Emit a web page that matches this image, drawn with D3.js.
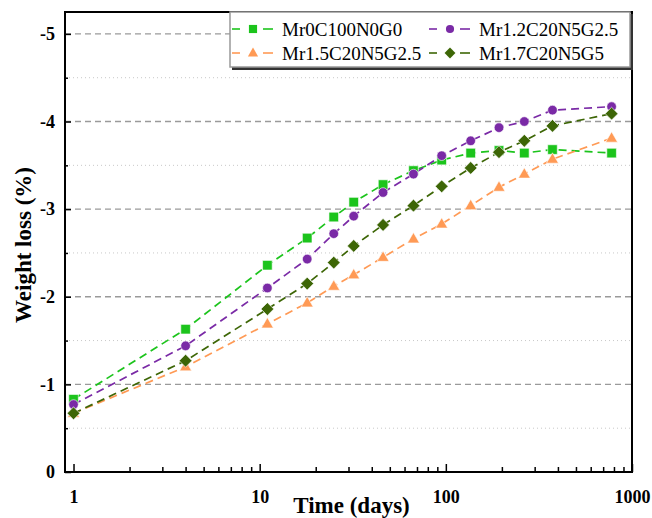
<!DOCTYPE html>
<html>
<head>
<meta charset="utf-8">
<script src="https://cdn.jsdelivr.net/npm/d3@7"></script>
<style>
  html, body { margin: 0; padding: 0; background: #fff; }
  svg { display: block; }
  text { font-family: "Liberation Serif", "Times New Roman", serif; }
</style>
</head>
<body>
<svg id="chart" width="652" height="518"></svg>
<script>
// ---------- data ----------
const times = [1, 4, 11, 18, 25, 32, 46, 67, 95, 136, 193, 264, 374, 777];
const seriesNames = ["Mr0C100N0G0", "Mr1.2C20N5G2.5", "Mr1.5C20N5G2.5", "Mr1.7C20N5G5"];
const mr0 = [-0.83, -1.63, -2.36, -2.67, -2.91, -3.08, -3.28, -3.44, -3.56, -3.64, -3.67, -3.64, -3.68, -3.64];
const mr12 = [-0.77, -1.44, -2.10, -2.43, -2.72, -2.92, -3.19, -3.40, -3.61, -3.78, -3.93, -4.00, -4.13, -4.17];
const mr15 = [-0.67, -1.20, -1.69, -1.93, -2.12, -2.25, -2.45, -2.66, -2.83, -3.04, -3.25, -3.40, -3.57, -3.81];
const mr17 = [-0.67, -1.27, -1.86, -2.15, -2.39, -2.58, -2.82, -3.04, -3.26, -3.47, -3.65, -3.78, -3.95, -4.09];
const xTickValues = [1, 10, 100, 1000];
const xTickLabels = ["1", "10", "100", "1000"];
const yTickValues = [0, -1, -2, -3, -4, -5];
const yTickLabels = ["0", "-1", "-2", "-3", "-4", "-5"];
const yMinorValues = [-0.5, -1.5, -2.5, -3.5, -4.5];
const xLabel = "Time (days)";
const yLabel = "Weight loss (%)";

// ---------- styles ----------
const colors = ["#1cc41c", "#7a2aa6", "#ff9a55", "#3d6606"];
const shapes = ["square", "circle", "triangle", "diamond"];
const series = [mr0, mr12, mr15, mr17];

const L = 65, R = 632, T = 12, B = 472;
const svg = d3.select("#chart");

const x = d3.scaleLog().domain([0.9, 1000]).range([L, R]);
const y = d3.scaleLinear().domain([0, -5.25]).range([B, T]);

// grid
svg.append("g").selectAll("line").data(yMinorValues).join("line")
  .attr("x1", L).attr("x2", R).attr("y1", d => y(d)).attr("y2", d => y(d))
  .attr("stroke", "#c8c8c8").attr("stroke-width", 1).attr("stroke-dasharray", "1,3");
svg.append("g").selectAll("line").data(yTickValues.filter(v => v !== 0)).join("line")
  .attr("x1", L).attr("x2", R).attr("y1", d => y(d)).attr("y2", d => y(d))
  .attr("stroke", "#9a9a9a").attr("stroke-width", 1.3).attr("stroke-dasharray", "6,4");

// axes
const fmtY = d => yTickLabels[yTickValues.indexOf(d)];
const fmtX = d => xTickLabels[xTickValues.indexOf(d)];

const yAxis = svg.append("g").attr("transform", `translate(${L},0)`)
  .call(d3.axisLeft(y).tickValues(yTickValues).tickFormat(fmtY).tickSize(-6).tickPadding(10));
yAxis.selectAll("text").attr("font-size", 18).attr("font-weight", "bold").attr("fill", "#000")
  .style("font-family", '"Liberation Serif", serif');
const yMinor = svg.append("g").attr("transform", `translate(${L},0)`)
  .call(d3.axisLeft(y).tickValues(yMinorValues).tickFormat("").tickSize(-3));

const xMinorValues = [];
[1, 10, 100].forEach(dec => { for (let k = 2; k <= 9; k++) xMinorValues.push(dec * k); });
const xAxis = svg.append("g").attr("transform", `translate(0,${B})`)
  .call(d3.axisBottom(x).tickValues(xTickValues).tickFormat(fmtX).tickSize(-8).tickPadding(18));
xAxis.selectAll("text").attr("font-size", 18).attr("font-weight", "bold").attr("fill", "#000")
  .style("font-family", '"Liberation Serif", serif');
const xMinor = svg.append("g").attr("transform", `translate(0,${B})`)
  .call(d3.axisBottom(x).tickValues(xMinorValues).tickFormat("").tickSize(-5));

[yAxis, yMinor, xAxis, xMinor].forEach(g => {
  g.select(".domain").remove();
  g.selectAll("line").attr("stroke", "#000").attr("stroke-width", 1.5);
});

// frame
svg.append("rect").attr("x", L).attr("y", T).attr("width", R - L).attr("height", B - T)
  .attr("fill", "none").attr("stroke", "#000").attr("stroke-width", 2);

// marker path generator
function markerPath(shape) {
  if (shape === "square") return "M-4.8,-4.8H4.8V4.8H-4.8Z";
  if (shape === "circle") return "M4.8,0A4.8,4.8 0 1 1 -4.8,0A4.8,4.8 0 1 1 4.8,0Z";
  if (shape === "triangle") return "M0,-6.4L6,4H-6Z";
  return "M0,-6.4L6.4,0L0,6.4L-6.4,0Z";
}

// series
const line = d3.line().x(d => x(d[0])).y(d => y(d[1]));
series.forEach((vals, i) => {
  const pts = times.map((t, j) => [t, vals[j]]);
  svg.append("path").datum(pts).attr("d", line)
    .attr("fill", "none").attr("stroke", colors[i]).attr("stroke-width", 1.7)
    .attr("stroke-dasharray", "8,5");
});
series.forEach((vals, i) => {
  const pts = times.map((t, j) => [t, vals[j]]);
  svg.append("g").selectAll("path").data(pts).join("path")
    .attr("transform", d => `translate(${x(d[0])},${y(d[1])})`)
    .attr("d", markerPath(shapes[i]))
    .attr("fill", colors[i]).attr("stroke", "#fff").attr("stroke-width", 0.6);
});

// axis titles
svg.append("text").attr("x", (L + R) / 2 + 3).attr("y", 513).attr("text-anchor", "middle")
  .attr("font-size", 23).attr("font-weight", "bold").text(xLabel);
svg.append("text").attr("transform", `translate(31,${(T + B) / 2 + 3}) rotate(-90)`)
  .attr("text-anchor", "middle").attr("font-size", 23).attr("font-weight", "bold").text(yLabel);

// legend
const lg = svg.append("g");
lg.append("rect").attr("x", 232).attr("y", 14).attr("width", 401).attr("height", 56).attr("fill", "#333");
lg.append("rect").attr("x", 230).attr("y", 12).attr("width", 400).attr("height", 55)
  .attr("fill", "#fff").attr("stroke", "#999").attr("stroke-width", 1.5);
const legPos = [[253, 29], [450, 29], [253, 53], [450, 53]];
seriesNames.forEach((name, i) => {
  const [cx, cy] = legPos[i];
  const g = lg.append("g");
  g.append("line").attr("x1", cx - 21).attr("x2", cx - 13).attr("y1", cy).attr("y2", cy)
    .attr("stroke", colors[i]).attr("stroke-width", 1.6);
  g.append("line").attr("x1", cx + 10).attr("x2", cx + 20).attr("y1", cy).attr("y2", cy)
    .attr("stroke", colors[i]).attr("stroke-width", 1.6);
  g.append("path").attr("transform", `translate(${cx},${cy}) scale(0.85)`).attr("d", markerPath(shapes[i]))
    .attr("fill", colors[i]);
  g.append("text").attr("x", cx + 29).attr("y", cy + 7).attr("font-size", 19).attr("fill", "#000").text(name);
});
</script>
</body>
</html>
